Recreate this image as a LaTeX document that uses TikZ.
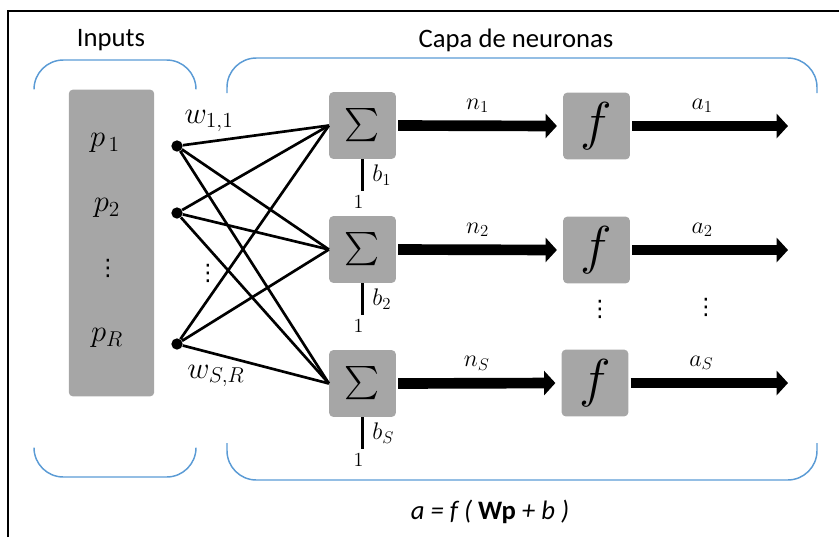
\RequirePackage{fix-cm}
\documentclass[tikz,border=0pt]{standalone}
\usepackage{amsmath}
\usepackage{fontspec}
\setmainfont{Carlito}
\newfontfamily\dotsfont{DejaVu Sans}
\usepackage{xcolor}
\usetikzlibrary{arrows.meta,calc}

\definecolor{boxgray}{RGB}{166,166,166}
\definecolor{braceblue}{RGB}{91,155,213}

\begin{document}
\begin{tikzpicture}[x=0.75pt,y=-0.75pt,
  box/.style={rectangle,fill=boxgray,rounded corners=3pt,minimum size=50pt,inner sep=0pt},
  brace/.style={draw=braceblue,line width=1.1pt,rounded corners=22pt},
  wire/.style={line width=2pt},
  flow/.style={line width=8pt,-{Triangle[length=8.5pt,width=18pt]}},
  neuron/.style={circle,fill=black,inner sep=0pt,minimum size=8.5pt},
  title/.style={font=\fontsize{20}{24}\selectfont},
  big/.style={font=\fontsize{23}{27}\selectfont},
  lbl/.style={font=\fontsize{18}{21}\selectfont},
  vdot/.style={font=\fontsize{17}{20}\dotsfont},
  one/.style={font=\fontsize{15}{17}\selectfont,inner sep=1pt}]
\useasboundingbox (0,0) rectangle (839,537);
\draw[line width=1.5pt] (8,537) -- (8,11) -- (839,11);

% titles and brackets
\node[title] (tin) at (111,40) {Inputs};
\node[title] (tcapa) at (516,40) {Capa de neuronas};
\draw[brace] (34,89) -- (34,60) -- (196,60) -- (196,89);
\draw[brace] (227,93) -- (227,58) -- (817,58) -- (817,93);
\draw[brace] (34,448) -- (34,477) -- (196,477) -- (196,448);
\draw[brace] (227,443) -- (227,480) -- (817,480) -- (817,443);

% input vector
\node[box,minimum width=64pt,minimum height=230pt] (pbox) at (111.5,243) {};
\node[big] (p1) at (105,143) {$p_{\,1}$};
\node[big] (p2) at (107,208) {$p_2$};
\node[vdot] (pdots) at (108,268) {⋮};
\node[big] (pR) at (107,338) {$p_R$};

% input nodes
\node[neuron] (d1) at (177,146) {};
\node[neuron] (d2) at (177,213) {};
\node[neuron] (dR) at (177,344) {};
\node[vdot] (ddots) at (208,273) {⋮};

% summing junctions
\node[box,font=\fontsize{35}{40}\selectfont] (s1) at (362.5,125.5) {$\sum$};
\node[box,font=\fontsize{35}{40}\selectfont] (s2) at (362.5,249.5) {$\sum$};
\node[box,font=\fontsize{35}{40}\selectfont] (sS) at (362.5,383.5) {$\sum$};

% transfer functions
\node[box,font=\fontsize{40}{44}\selectfont] (f1) at (596.5,126) {$f$};
\node[box,font=\fontsize{40}{44}\selectfont] (f2) at (596.5,250) {$f$};
\node[box,font=\fontsize{40}{44}\selectfont] (fS) at (595,383) {$f$};
\node[vdot] (fdots) at (600,309) {⋮};

% weights
\draw[wire] (d1) -- (s1.west) (d1) -- (s2.west) (d1) -- (sS.west);
\draw[wire] (d2) -- (s1.west) (d2) -- (s2.west) (d2) -- (sS.west);
\draw[wire] (dR) -- (s1.west) (dR) -- (s2.west) (dR) -- (sS.west);
\node[big] (w11) at (209,121) {$w_{1,1}$};
\node[big] (wSR) at (216,376) {$w_{S,R}$};

% biases
\draw[wire] (s1.south) -- ++(0,32) node[one,below=1.5pt,xshift=-3pt] (u1) {$1$}
  node[lbl,pos=0.5,right=3pt] (b1) {$b_1$};
\draw[wire] (s2.south) -- ++(0,32) node[one,below=1.5pt,xshift=-3pt] (u2) {$1$}
  node[lbl,pos=0.5,right=3pt] (b2) {$b_2$};
\draw[wire] (sS.south) -- ++(0,32) node[one,below=1.5pt,xshift=-3pt] (uS) {$1$}
  node[lbl,pos=0.5,right=3pt] (bS) {$b_S$};

% net inputs and outputs
\coordinate (o1) at (788,126);
\coordinate (o2) at (788,250);
\coordinate (oS) at (788,383);
\draw[flow] ([xshift=1.5pt]s1.east) -- node[lbl,yshift=15pt] (n1) {$n_1$} ([xshift=-4.5pt]f1.west);
\draw[flow] ([xshift=1.5pt]s2.east) -- node[lbl,yshift=15pt] (n2) {$n_2$} ([xshift=-4.5pt]f2.west);
\draw[flow] ([xshift=1.5pt]sS.east) -- node[lbl,yshift=15pt] (nS) {$n_S$} ([xshift=-4.5pt]fS.west);
\draw[flow] ([xshift=1.5pt]f1.east) -- node[lbl,pos=0.45,yshift=15pt] (a1) {$a_1$} (o1);
\draw[flow] ([xshift=1.5pt]f2.east) -- node[lbl,pos=0.45,yshift=15pt] (a2) {$a_2$} (o2);
\draw[flow] ([xshift=1.5pt]fS.east) -- node[lbl,pos=0.45,yshift=15pt] (aS) {$a_S$} (oS);
\node[vdot] (adots) at (706,307) {⋮};

% layer equation
\node[font=\fontsize{20}{24}\selectfont\itshape] (eq) at (490,512) {a = f ( {\upshape\bfseries Wp} + b )};
\end{tikzpicture}
\end{document}
